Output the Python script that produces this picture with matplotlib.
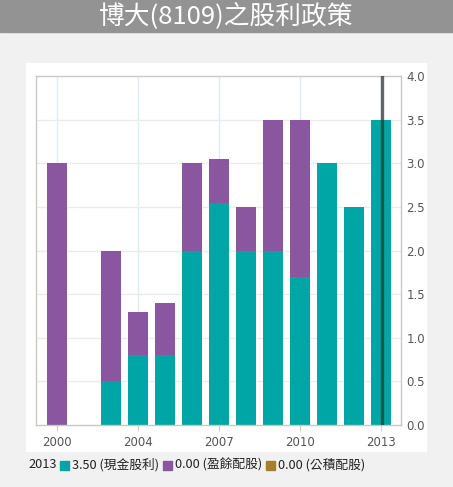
import matplotlib
matplotlib.use('Agg')
import matplotlib.pyplot as plt
from matplotlib.patches import Rectangle

plt.rcParams['font.family'] = ['Noto Sans CJK TC', 'DejaVu Sans']

# data
years = ['2000', '2002', '2003', '2004', '2005', '2006', '2007',
         '2008', '2009', '2010', '2011', '2012', '2013']
cash = [0.0, 0.0, 0.5, 0.8, 0.8, 2.0, 2.54, 2.0, 2.0, 1.7, 3.0, 2.5, 3.5]
stock = [3.0, 0.0, 1.5, 0.5, 0.6, 1.0, 0.51, 0.5, 1.5, 1.8, 0.0, 0.0, 0.0]
xlabels = ['2000', '2004', '2007', '2010', '2013']
yticks = [0.0, 0.5, 1.0, 1.5, 2.0, 2.5, 3.0, 3.5, 4.0]

c_cash, c_stock, c_cap = '#00a6a6', '#8a56a0', '#a67f2a'

W, H = 453, 487
fig = plt.figure(figsize=(W / 100, H / 100), dpi=100, facecolor='#f0f1f0')

def fx(px): return px / W
def fy(py): return 1 - py / H

# title bar and white panel
fig.patches.append(Rectangle((0, fy(32)), 1, 32 / H, transform=fig.transFigure,
                             color='#939393', zorder=-2))
fig.patches.append(Rectangle((fx(26), fy(451)), 400 / W, 388 / H,
                             transform=fig.transFigure, color='white', zorder=-2))
fig.text(0.5, fy(17), '博大(8109)之股利政策', color='white', fontsize=18.5,
         ha='center', va='center')

ax = fig.add_axes([fx(36), fy(425), (401 - 36) / W, (425 - 76) / H])
ax.set_zorder(2)
ax.set_facecolor('white')
idx = list(range(len(years)))
ax.bar(idx, cash, width=0.74, color=c_cash, zorder=2)
ax.bar(idx, stock, width=0.74, bottom=cash, color=c_stock, zorder=2)

ax.set_xlim(-0.78, 12.74)
ax.set_ylim(0, 4.0)
tick_pos = [years.index(y) for y in xlabels]
ax.set_xticks(tick_pos)
ax.set_xticklabels(xlabels, fontsize=8.5, color='#555555', family='DejaVu Sans')
ax.tick_params(axis='x', length=4, color='#cccccc', pad=4)
for p in tick_pos:
    ax.axvline(p, color='#dbeef7', lw=1, zorder=1)
ax.yaxis.tick_right()
ax.set_yticks(yticks)
ax.set_yticklabels(['%.1f' % v for v in yticks], fontsize=8.5, color='#555555',
                   family='DejaVu Sans')
ax.tick_params(axis='y', length=0, pad=4)
for v in yticks[1:-1]:
    ax.axhline(v, color='#ebebeb', lw=1, zorder=1)
for s in ax.spines.values():
    s.set_color('#c8c8c8')
    s.set_linewidth(1)

# current-year marker
ax.axvline(len(years) - 1 + 0.04, color='#333333', alpha=0.75, lw=2.4, zorder=3)

# legend line
ly = fy(465)
fs = 9.2
fig.text(fx(28), ly, '2013', fontsize=fs, va='center', color='#222222')
items = [(60, c_cash, '3.50 (現金股利)'), (163, c_stock, '0.00 (盈餘配股)'),
         (266, c_cap, '0.00 (公積配股)')]
for x0, col, txt in items:
    fig.patches.append(Rectangle((fx(x0), fy(469.5)), 9 / W, 9 / H,
                                 transform=fig.transFigure, color=col))
    fig.text(fx(x0 + 12), ly, txt, fontsize=fs, va='center', color='#222222')

fig.savefig('out.png', dpi=100, facecolor=fig.get_facecolor())
